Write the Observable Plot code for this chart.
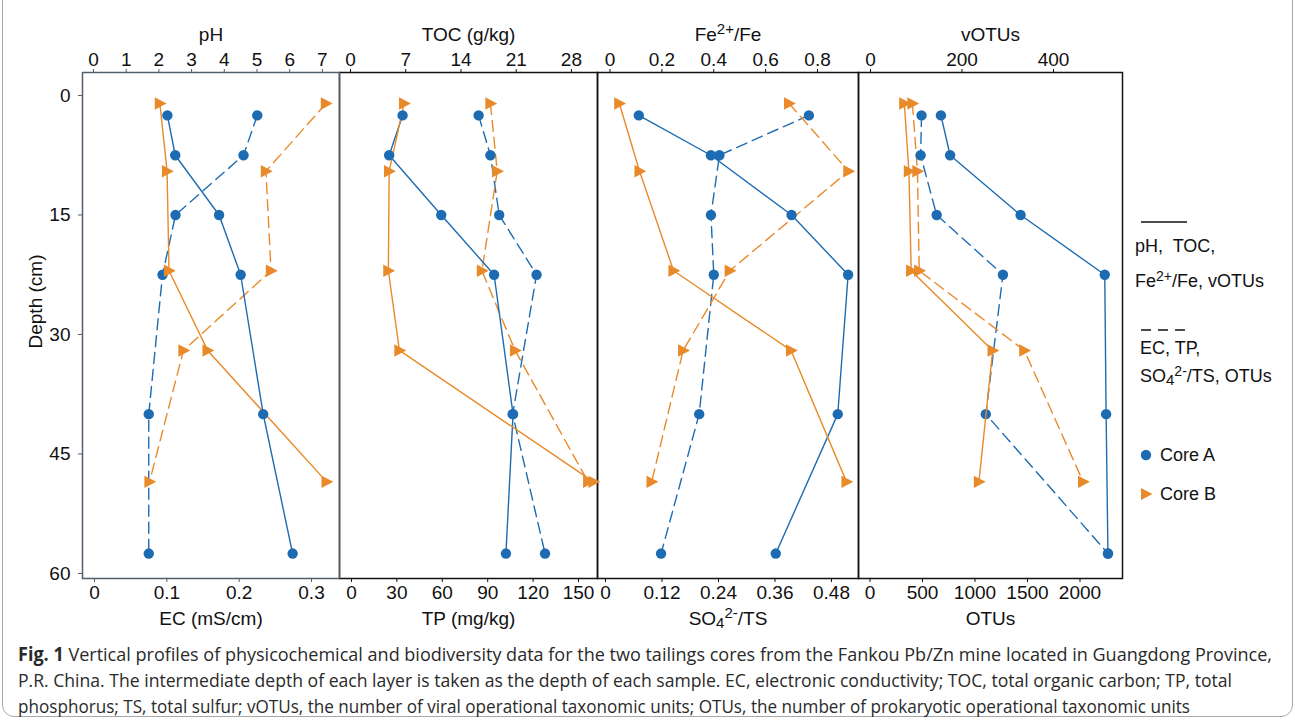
<!DOCTYPE html>
<html><head><meta charset="utf-8">
<script src="https://cdn.jsdelivr.net/npm/d3@7"></script>
<script src="https://cdn.jsdelivr.net/npm/@observablehq/plot@0.6"></script>
<style>
body{margin:0;background:#fff;}
#fig{position:relative;width:1295px;height:726px;overflow:hidden;font-family:"Liberation Sans",Arimo,Arial,sans-serif;color:#111;}
#border{position:absolute;left:2px;top:-20px;width:1291px;height:737px;border:1.5px solid #a8a8a8;border-radius:12px;box-sizing:border-box;}
.lg{position:absolute;font-size:18px;white-space:nowrap;line-height:18px;}
.up{position:relative;top:-6px;font-size:14px;}
.dn{position:relative;top:3px;font-size:15px;}
#cap{position:absolute;left:18px;top:641px;font-family:"Open Sans","Noto Sans",sans-serif;font-size:19px;line-height:26px;color:#2a2a2a;white-space:nowrap;}
#cap .ln{display:block;width:max-content;transform-origin:0 0;}
</style></head>
<body><div id="fig"><div id="border"></div></div>
<script>
// ---- data ----
const depthA = [2.5, 7.5, 15, 22.5, 40, 57.5];
const depthB = [1, 9.5, 22, 32, 48.5];
const pH_A = [2.26, 2.50, 3.84, 4.50, 5.19, 6.09];
const pH_B = [2.03, 2.25, 2.31, 3.49, 7.13];
const EC_A = [0.225, 0.206, 0.112, 0.094, 0.075, 0.075];
const EC_B = [0.320, 0.237, 0.244, 0.123, 0.076];
const TOC_A = [6.6, 4.9, 11.5, 18.2, 20.6, 19.7];
const TOC_B = [6.8, 4.9, 4.8, 6.2, 30.8];
const TP_A = [84.0, 91.8, 97.6, 122.3, 106.5, 127.9];
const TP_B = [91.8, 96.3, 86.2, 108.1, 156.4];
const Fe_A = [0.111, 0.389, 0.700, 0.918, 0.878, 0.639];
const Fe_B = [0.036, 0.114, 0.245, 0.698, 0.912];
const SO4_A = [0.432, 0.242, 0.224, 0.230, 0.199, 0.118];
const SO4_B = [0.390, 0.516, 0.264, 0.165, 0.098];
const vOTU_A = [154, 174, 328, 512, 515, 519];
const vOTU_B = [74, 84, 89, 267, 237];
const OTU_A = [491, 482, 635, 1266, 1103, 2267];
const OTU_B = [404, 452, 469, 1470, 2030];

const depthTicks = [0, 15, 30, 45, 60];
const pHTicks = [0, 1, 2, 3, 4, 5, 6, 7];
const ECTicks = [0, 0.1, 0.2, 0.3];
const TOCTicks = [0, 7, 14, 21, 28];
const TPTicks = [0, 30, 60, 90, 120, 150];
const FeTicks = [0, 0.2, 0.4, 0.6, 0.8];
const SO4Ticks = [0, 0.12, 0.24, 0.36, 0.48];
const vOTUTicks = [0, 200, 400];
const OTUTicks = [0, 500, 1000, 1500, 2000];

// ---- layout / style ----
const W = 1295, H = 640, FRAME_TOP = 72, FRAME_BOTTOM = 578;
const BLUE = "#1d6cb3", ORANGE = "#e98a2a";
const FONT = "'Liberation Sans', Arimo, Arial, sans-serif";
const DEPTH_DOMAIN = [-2.887, 60.63];
const panels = [
  {L: 82, R: 339, frame: "#535e6b", yaxis: true,
   top: {label: "pH", domain: [-0.336, 7.523], ticks: pHTicks, A: pH_A, B: pH_B},
   bottom: {label: "EC (mS/cm)", domain: [-0.0166, 0.3387], ticks: ECTicks, A: EC_A, B: EC_B}},
  {L: 339, R: 597, frame: "#111",
   top: {label: "TOC (g/kg)", domain: [-1.394, 31.305], ticks: TOCTicks, A: TOC_A, B: TOC_B},
   bottom: {label: "TP (mg/kg)", domain: [-7.93, 162.56], ticks: TPTicks, A: TP_A, B: TP_B}},
  {L: 597, R: 858, frame: "#111",
   top: {label: "Fe2+/Fe", domain: [-0.0482, 0.958], ticks: FeTicks, A: Fe_A, B: Fe_B},
   bottom: {label: "SO42-/TS", domain: [-0.017, 0.5374], ticks: SO4Ticks, A: SO4_A, B: SO4_B}},
  {L: 858, R: 1122, frame: "#111",
   top: {label: "vOTUs", domain: [-26.2, 550.8], ticks: vOTUTicks, A: vOTU_A, B: vOTU_B},
   bottom: {label: "OTUs", domain: [-109.5, 2404.8], ticks: OTUTicks, A: OTU_A, B: OTU_B}}
];

const triRight = {
  draw(ctx, size) {
    const r = Math.sqrt(size / Math.PI);
    ctx.moveTo(1.25 * r, 0);
    ctx.lineTo(-0.95 * r, 1.15 * r);
    ctx.lineTo(-0.95 * r, -1.15 * r);
    ctx.closePath();
  }
};

const richLabels = {
  "Fe2+/Fe": 'Fe<tspan dy="-7" font-size="15">2+</tspan><tspan dy="7">/Fe</tspan>',
  "SO42-/TS": 'SO<tspan dy="3" font-size="15">4</tspan><tspan dy="-10" font-size="15">2-</tspan><tspan dy="7">/TS</tspan>'
};

function layer(p, side) {
  const s = p[side];
  const isTop = side === "top";
  const A = depthA.map((d, i) => ({depth: d, value: s.A[i]}));
  const B = depthB.map((d, i) => ({depth: d, value: s.B[i]}));
  const lineOpts = isTop ? {} : {strokeDasharray: "11,6"};
  const marks = [
    Plot.axisX({anchor: isTop ? "top" : "bottom", ticks: s.ticks, tickFormat: d => String(d),
      tickSize: 4, tickPadding: 3, stroke: p.frame, label: s.label, labelAnchor: "center",
      labelArrow: "none", labelOffset: isTop ? 45 : 46, fontSize: 19})
  ];
  if (isTop && p.yaxis) {
    marks.push(Plot.axisY({anchor: "left", ticks: depthTicks, tickFormat: d => String(d),
      tickSize: 4, tickPadding: 8, stroke: p.frame, label: "Depth (cm)", labelAnchor: "center",
      labelArrow: "none", labelOffset: 54, fontSize: 19}));
  }
  if (isTop) marks.push(Plot.frame({stroke: p.frame, strokeWidth: 1.5}));
  marks.push(
    Plot.line(A, {x: "value", y: "depth", stroke: BLUE, strokeWidth: 1.4, ...lineOpts}),
    Plot.line(B, {x: "value", y: "depth", stroke: ORANGE, strokeWidth: 1.4, ...lineOpts}),
    Plot.dot(A, {x: "value", y: "depth", r: 5.2, fill: BLUE}),
    Plot.dot(B, {x: "value", y: "depth", r: 5.4, symbol: triRight, fill: ORANGE})
  );
  const svg = Plot.plot({
    width: W, height: H,
    marginLeft: p.L, marginRight: W - p.R, marginTop: FRAME_TOP, marginBottom: H - FRAME_BOTTOM,
    style: {position: "absolute", left: "0px", top: "0px", background: "transparent",
      fontFamily: FONT, fontSize: "19px", color: "#111", overflow: "visible"},
    x: {domain: s.domain},
    y: {domain: DEPTH_DOMAIN, reverse: true, axis: null},
    marks
  });
  svg.querySelectorAll("text").forEach(t => {
    const k = t.textContent;
    if (richLabels[k]) t.innerHTML = richLabels[k];
  });
  // the depth title sits a little above the frame centre in the original
  const yl = svg.querySelector('g[aria-label="y-axis label"]');
  if (yl) yl.setAttribute("transform", "translate(0,-24) " + (yl.getAttribute("transform") || ""));
  return svg;
}

const fig = document.getElementById("fig");
// draw panel 1 last so its frame sits on top of the shared border
[3, 2, 1, 0].forEach(i => {
  fig.appendChild(layer(panels[i], "bottom"));
  fig.appendChild(layer(panels[i], "top"));
});

// ---- legend + caption ----
const legendHTML = `
<svg style="position:absolute;left:1138px;top:214px" width="60" height="130">
  <line x1="3" x2="49" y1="8" y2="8" stroke="#111" stroke-width="1.5"/>
  <line x1="3" x2="49" y1="116" y2="116" stroke="#111" stroke-width="1.5" stroke-dasharray="10,7"/>
</svg>
<div class="lg" style="left:1135px;top:237px">pH,&nbsp; TOC,</div>
<div class="lg" style="left:1135px;top:272px">Fe<span class="up">2+</span>/Fe, vOTUs</div>
<div class="lg" style="left:1140px;top:339px">EC, TP,</div>
<div class="lg" style="left:1140px;top:367px">SO<span class="dn">4</span><span class="up">2-</span>/TS, OTUs</div>
<svg style="position:absolute;left:1136px;top:444px" width="22" height="62">
  <circle cx="10" cy="11" r="5.2" fill="${BLUE}"/>
  <path d="M16.5,50 L5,56 L5,44 Z" fill="${ORANGE}"/>
</svg>
<div class="lg" style="left:1160px;top:446px">Core A</div>
<div class="lg" style="left:1160px;top:485px">Core B</div>
<div id="cap"><span class="ln"><b>Fig. 1</b> Vertical profiles of physicochemical and biodiversity data for the two tailings cores from the Fankou Pb/Zn mine located in Guangdong Province,</span><span class="ln">P.R. China. The intermediate depth of each layer is taken as the depth of each sample. EC, electronic conductivity; TOC, total organic carbon; TP, total</span><span class="ln">phosphorus; TS, total sulfur; vOTUs, the number of viral operational taxonomic units; OTUs, the number of prokaryotic operational taxonomic units</span></div>
`;
fig.insertAdjacentHTML("beforeend", legendHTML);
// caption lines are condensed to the widths they occupy in the original
const capWidths = [1254, 1214, 1172];
document.querySelectorAll("#cap .ln").forEach((el, i) => {
  const w = el.getBoundingClientRect().width;
  el.style.transform = `scaleX(${capWidths[i] / w})`;
});
</script>
</body></html>
